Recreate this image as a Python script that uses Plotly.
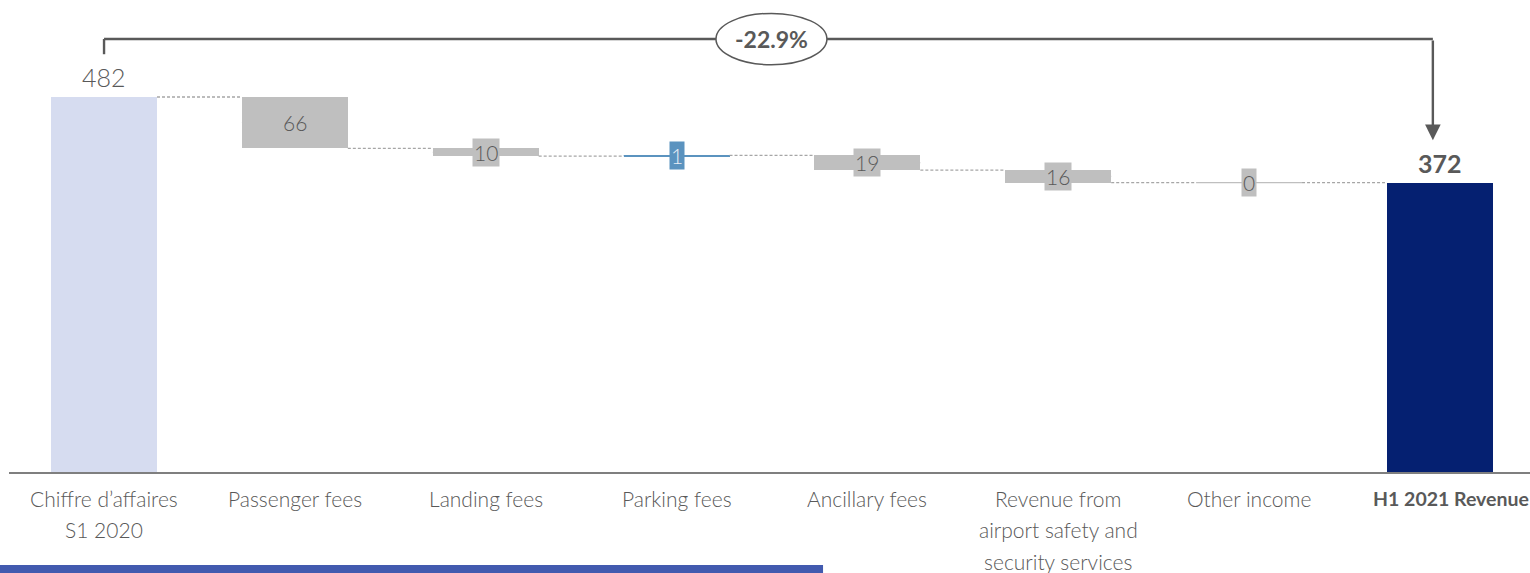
import plotly.graph_objects as go

# ---- data ----
categories = ["Chiffre d’affaires<br>S1 2020", "Passenger fees", "Landing fees", "Parking fees",
              "Ancillary fees", "Revenue from<br>airport safety and<br>security services",
              "Other income", "<b>H1 2021 Revenue</b>"]
start_value = 482
deltas = [-66, -10, 1, -19, -16, 0]
end_value = 372
change_label = "-22.9%"

# ---- styles ----
FONT = "Lato"
TXT = "#595959"
C_START = "#D6DCF0"
C_END = "#052071"
C_DEC = "#BFBFBF"
C_INC = "#5B93BF"
W = 0.555

n = len(categories)
xs = list(range(n))

levels = [start_value]
for d in deltas:
    levels.append(levels[-1] + d)

bases, heights, colors = [0], [start_value], [C_START]
for i, d in enumerate(deltas):
    bases.append(levels[i])
    heights.append(d)
    colors.append(C_INC if d > 0 else C_DEC)
bases.append(0)
heights.append(end_value)
colors.append(C_END)

fig = go.Figure()
fig.add_trace(go.Bar(x=xs, y=heights, base=bases, width=W, marker=dict(color=colors, line=dict(width=0)),
                     hoverinfo="skip"))

# thin lines for near-zero bars
for i, d in enumerate(deltas):
    k = i + 1
    mid = levels[i] + d / 2
    fig.add_trace(go.Scatter(x=[k - W / 2, k + W / 2], y=[mid, mid], mode="lines",
                             line=dict(color=colors[k], width=1.2), hoverinfo="skip"))

# connectors
cx, cy = [], []
for i in range(n - 1):
    lv = levels[i]
    cx += [i + W / 2, i + 1 - W / 2, None]
    cy += [lv, lv, None]
fig.add_trace(go.Scatter(x=cx, y=cy, mode="lines", line=dict(color="#A6A6A6", width=1.3, dash="3px,2px"),
                         hoverinfo="skip"))

annotations = []
# start / end labels
annotations.append(dict(x=0, y=start_value, text=str(start_value), showarrow=False, yshift=20,
                        font=dict(family=FONT, size=25, color=TXT, weight=300)))
annotations.append(dict(x=n - 1, y=end_value, text="<b>%d</b>" % end_value, showarrow=False, yshift=20,
                        font=dict(family=FONT, size=25, color=TXT)))
# delta labels
for i, d in enumerate(deltas):
    k = i + 1
    annotations.append(dict(x=k, y=levels[i] + d / 2, text=str(abs(d)), showarrow=False,
                            bgcolor=colors[k], borderpad=1,
                            font=dict(family=FONT, size=21, color="#E8EEF5" if d > 0 else TXT, weight=300)))

# category labels (one annotation per line, for the wider line spacing)
for i, cat in enumerate(categories):
    lines = cat.split("<br>")
    for j, ln in enumerate(lines):
        xshift = 0
        size = 21
        if i == n - 1:
            xshift = 11
            size = 19.5
        annotations.append(dict(x=i, y=0, xref="x", yref="paper", text=ln, showarrow=False,
                                yanchor="middle", yshift=-(26 + 31.5 * j), xshift=xshift,
                                font=dict(family=FONT, size=size, color=TXT, weight=300)))

# bracket
BR_Y = 556.6
ARROW_X = 6.963
annotations.append(dict(x=ARROW_X, y=426.5, ax=ARROW_X, ay=BR_Y, xref="x", yref="y", axref="x", ayref="y",
                        text="", showarrow=True, arrowhead=2, arrowsize=1.3, arrowwidth=2.4,
                        arrowcolor=TXT, standoff=0))
annotations.append(dict(x=3.495, y=BR_Y, text="<b>%s</b>" % change_label, showarrow=False,
                        font=dict(family=FONT, size=23, color=TXT)))

shapes = [
    dict(type="line", x0=0, x1=ARROW_X, y0=BR_Y, y1=BR_Y, line=dict(color=TXT, width=2.4)),
    dict(type="line", x0=0, x1=0, y0=537, y1=BR_Y, line=dict(color=TXT, width=2.4)),
    dict(type="circle", x0=3.2065, x1=3.788, y0=523.5, y1=589.5, fillcolor="white",
         line=dict(color=TXT, width=1.5)),
    dict(type="rect", xref="paper", yref="paper", x0=-0.01, x1=0.5352, y0=-0.214, y1=-0.197,
         fillcolor="#425AAF", line=dict(width=0)),
]

fig.update_layout(
    width=1530, height=573,
    margin=dict(l=9, r=0, t=0, b=101),
    plot_bgcolor="white", paper_bgcolor="white",
    showlegend=False, bargap=0,
    annotations=annotations, shapes=shapes,
    xaxis=dict(range=[-0.498, 7.472], tickmode="array", tickvals=xs, showticklabels=False,
               showline=True, linecolor="#7F7F7F", linewidth=2, showgrid=False, zeroline=False,
               ticks="", fixedrange=True),
    yaxis=dict(range=[0, 606.7], visible=False, fixedrange=True),
)

fig.write_html("out.html", config={"displayModeBar": False},
               post_script="document.body.style.margin='0';document.body.style.overflow='hidden';")
